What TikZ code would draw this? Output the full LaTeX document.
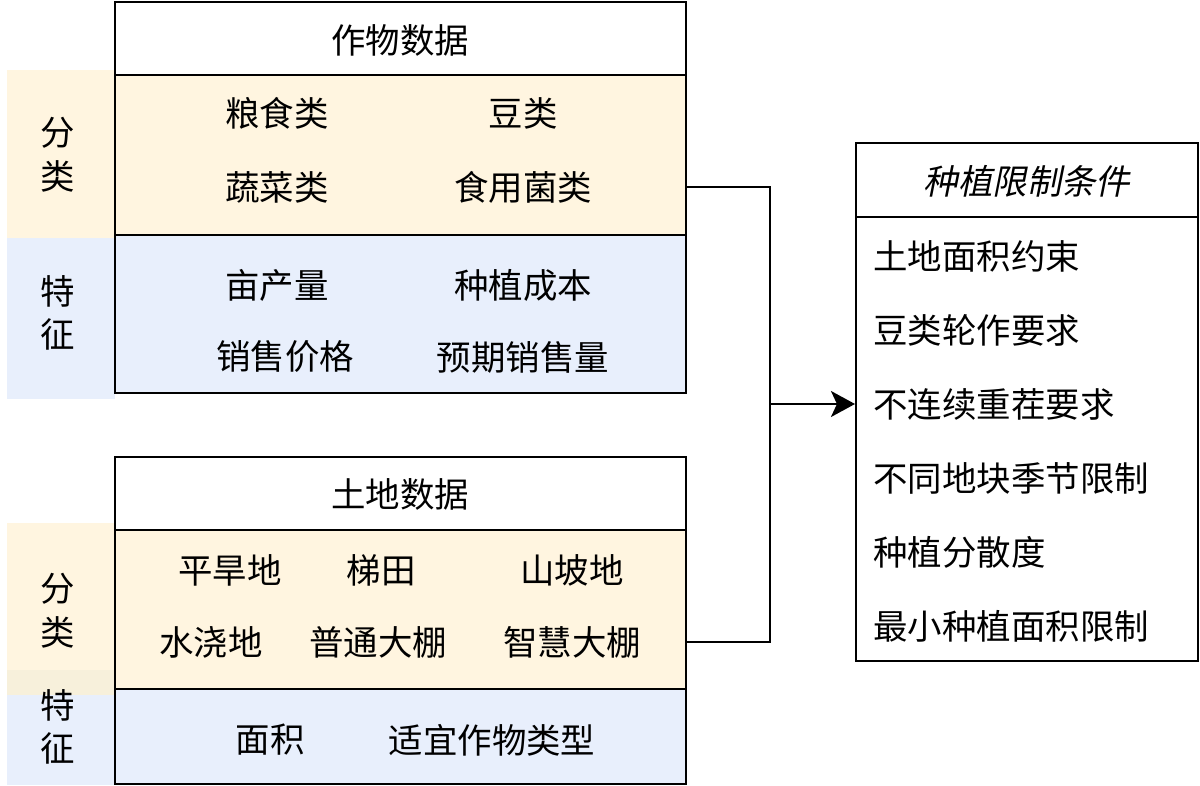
\documentclass[tikz,border=0pt]{standalone}
\usepackage{fontspec}
\setmainfont{Noto Sans CJK SC}
\newfontfamily\slantcjk[FakeSlant=0.2]{Noto Sans CJK SC}
\usetikzlibrary{arrows.meta}
\definecolor{classfill}{RGB}{255,245,224}
\definecolor{overlapfill}{RGB}{247,240,219}
\definecolor{featfill}{RGB}{232,239,252}

\begin{document}
\begin{tikzpicture}[x=0.025cm,y=-0.025cm,
  cell/.style={draw,line width=1.4pt,inner sep=0pt},
  strip/.style={inner sep=0pt,minimum width=2.7cm},
  txt/.style={inner sep=0pt,font=\fontsize{24.5}{31}\selectfont,align=center}]
\useasboundingbox (0,0) rectangle (1200,786);
% side strips
\node[strip,fill=classfill,minimum height=4.2cm] (cropclassstrip) at (61,154) {};
\node[strip,fill=featfill,minimum height=4.025cm] (cropfeatstrip) at (61,318.5) {};
\node[strip,fill=classfill,minimum height=4.3cm] (landclassstrip) at (61,609) {};
\node[strip,fill=overlapfill,minimum height=0.625cm] (landoverlap) at (61,682.5) {};
\node[strip,fill=featfill,minimum height=2.25cm] (landfeatstrip) at (61,740) {};
\node[txt] (cropclasslabel) at (58,155) {分\\类};
\node[txt] (cropfeatlabel) at (58,313) {特\\征};
\node[txt] (landclasslabel) at (58,611) {分\\类};
\node[txt] (landfeatlabel) at (58,727) {特\\征};
% crop data
\node[cell,fill=white,minimum width=14.275cm,minimum height=1.825cm] (crophead) at (400.5,38.5) {};
\node[cell,fill=classfill,minimum width=14.275cm,minimum height=4cm] (cropclass) at (400.5,155) {};
\node[cell,fill=featfill,minimum width=14.275cm,minimum height=3.95cm] (cropfeat) at (400.5,314) {};
\node[txt] (croptitle) at (400,40) {作物数据};
\node[txt] (grain) at (277,113) {粮食类};
\node[txt] (bean) at (523,113) {豆类};
\node[txt] (veg) at (277,187) {蔬菜类};
\node[txt] (mushroom) at (523,187) {食用菌类};
\node[txt] (yield) at (277,285) {亩产量};
\node[txt] (cost) at (523,285) {种植成本};
\node[txt] (price) at (285,357) {销售价格};
\node[txt] (sales) at (523,357) {预期销售量};
% land data
\node[cell,fill=white,minimum width=14.275cm,minimum height=1.825cm] (landhead) at (400.5,493.5) {};
\node[cell,fill=classfill,minimum width=14.275cm,minimum height=3.975cm] (landclass) at (400.5,609.5) {};
\node[cell,fill=featfill,minimum width=14.275cm,minimum height=2.375cm] (landfeat) at (400.5,736.5) {};
\node[txt] (landtitle) at (400,494) {土地数据};
\node[txt] (dry) at (230,570) {平旱地};
\node[txt] (terrace) at (381,570) {梯田};
\node[txt] (slope) at (572,570) {山坡地};
\node[txt] (irrigated) at (211,642) {水浇地};
\node[txt] (shed) at (378,642) {普通大棚};
\node[txt] (smartshed) at (572,642) {智慧大棚};
\node[txt] (area) at (270,740) {面积};
\node[txt] (suitcrop) at (492,740) {适宜作物类型};
% restrictions
\node[cell,fill=white,minimum width=8.55cm,minimum height=1.85cm] (limhead) at (1027,180) {};
\node[cell,fill=white,minimum width=8.55cm,minimum height=11.1cm] (limbody) at (1027,439) {};
\node[txt] (limtitle) at (1027,181) {\slantcjk 种植限制条件};
\node[txt,anchor=west] (landarea) at (873,256) {土地面积约束};
\node[txt,anchor=west] (rotation) at (873,330) {豆类轮作要求};
\node[txt,anchor=west] (norepeat) at (873,404) {不连续重茬要求};
\node[txt,anchor=west] (season) at (873,478) {不同地块季节限制};
\node[txt,anchor=west] (spread) at (873,552) {种植分散度};
\node[txt,anchor=west] (minarea) at (873,626) {最小种植面积限制};
% connectors
\coordinate (joint) at (770,404);
\draw[line width=1.4pt] (cropclass.east |- mushroom) -| (joint);
\draw[line width=1.4pt] (landclass.east |- smartshed) -| (joint);
\draw[line width=1.4pt,-{Stealth[length=0.6cm,width=0.65cm,inset=0.15cm]}] (joint) -- (limbody.west |- norepeat);
\end{tikzpicture}
\end{document}
